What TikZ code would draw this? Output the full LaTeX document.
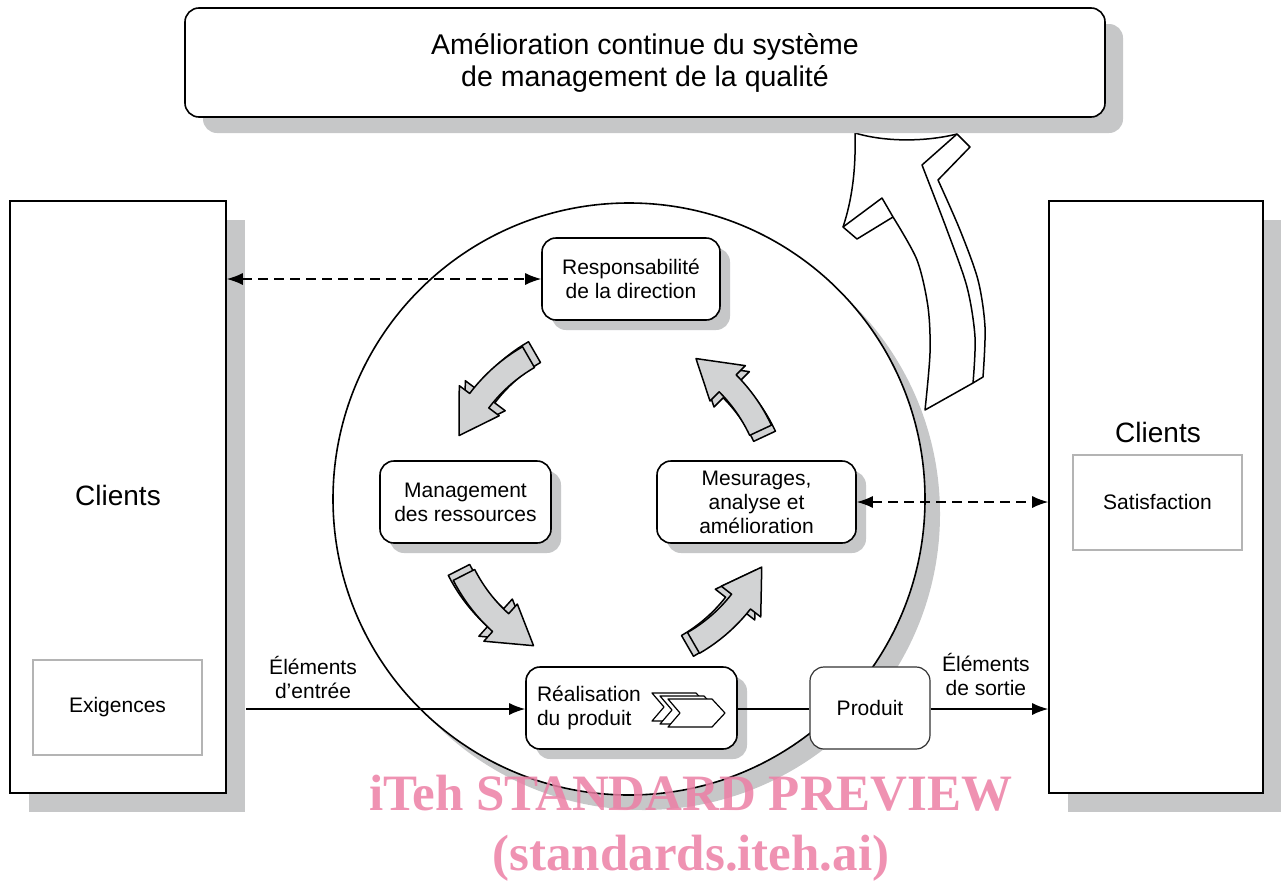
\documentclass[tikz,border=0pt]{standalone}
\usepackage{fontspec}
\setmainfont{Liberation Sans}
\newfontfamily\wmfont{Liberation Serif}
\usepackage{tikz}
\usetikzlibrary{arrows.meta,shadows}
\definecolor{qmshadow}{HTML}{C6C7C8}
\definecolor{qmarrow}{HTML}{D2D3D4}
\definecolor{qmframe}{HTML}{B4B4B4}
\definecolor{qmmark}{HTML}{EC7FA5}
\newcommand{\nodefont}{\fontsize{21}{24}\selectfont}
\newcommand{\titlefont}{\fontsize{28.5}{32}\selectfont}
\newcommand{\bigfont}{\fontsize{28}{32}\selectfont}
% grey 3D arrow of the process cycle: tail angle, tip angle, back shift x/y
\newcommand{\cycarrow}[4]{%
  \pgfmathsetmacro{\hb}{#2+14}%
  \foreach \dx/\dy in {#3/#4,0/0}{%
    \filldraw[cycarr,shift={(\dx,\dy)}]
      plot[domain=#1:\hb,samples=12] ({611+177*cos(\x)},{500+177*sin(\x)})
      -- ({611+190*cos(\hb)},{500+190*sin(\hb)})
      -- ({611+165*cos(#2)},{500+165*sin(#2)})
      -- ({611+140*cos(\hb)},{500+140*sin(\hb)})
      -- plot[domain=\hb:#1,samples=12] ({611+153*cos(\x)},{500+153*sin(\x)})
      -- cycle;}}

\begin{document}
\begin{tikzpicture}[x=1pt,y=-1pt,
  every node/.style={font=\nodefont},
  topbox/.style={draw,rounded corners=14pt,fill=white,line width=1.6pt,minimum width=920pt,minimum height=109pt,align=center,font=\titlefont,drop shadow={shadow xshift=18pt,shadow yshift=-16pt,fill=qmshadow,opacity=1}},
  clientbox/.style={draw,fill=white,line width=1.6pt,minimum width=216pt,minimum height=592pt,drop shadow={shadow xshift=19pt,shadow yshift=-19pt,fill=qmshadow,opacity=1}},
  reqbox/.style={draw=qmframe,line width=2pt,fill=white,minimum width=169pt,minimum height=95pt},
  ring/.style={circle,draw,line width=1.6pt,fill=white,minimum size=592pt,drop shadow={shadow xshift=15pt,shadow yshift=-15pt,fill=qmshadow,opacity=1}},
  procbox/.style={draw,rounded corners=14pt,fill=white,line width=1.6pt,minimum height=82pt,align=center,drop shadow={shadow xshift=10pt,shadow yshift=-10pt,fill=qmshadow,opacity=1}},
  prodbox/.style={draw=black!80,rounded corners=14pt,fill=white,line width=1.2pt,minimum width=120pt,minimum height=82pt},
  dasharr/.style={{Latex[length=16pt,width=12pt]}-{Latex[length=16pt,width=12pt]},line width=1.4pt,dash pattern=on 10pt off 6pt},
  flowarr/.style={-{Latex[length=16pt,width=12pt]},line width=1.4pt},
  cycarr/.style={fill=qmarrow,draw,line width=1.5pt,line join=round},
  chev/.style={fill=white,draw,line width=1.2pt,line join=round},
  wm/.style={font=\wmfont\bfseries\fontsize{51}{56}\selectfont,text=qmmark,opacity=0.85,anchor=base}
]
\useasboundingbox (0,0) rectangle (1281,881);

% clients on both sides
\node[clientbox] (clientsL) at (118,497) {};
\node[clientbox,minimum width=214pt] (clientsR) at (1156,497) {};
\node[font=\bigfont] (clL) at (118,495) {Clients};
\node[font=\bigfont] (clR) at (1158,432) {Clients};
\node[reqbox] (req) at (117.5,707.5) {Exigences};
\node[reqbox] (sat) at (1157.5,502) {Satisfaction};

% quality management system
\node[ring] (qms) at (629,499) {};
\node[procbox,minimum width=178pt] (resp) at (631,279) {Responsabilité\\de la direction};
\node[procbox,minimum width=171pt] (mgmt) at (465.5,502) {Management\\des ressources};
\node[procbox,minimum width=199pt] (meas) at (756.5,502) {Mesurages,\\analyse et\\amélioration};
\node[procbox,minimum width=211pt,text width=189pt,inner xsep=11pt,align=left] (real) at (631.5,708) {Réalisation\\du produit};
\foreach \s in {2,1,0}
  \filldraw[chev,shift={(-8*\s,-3*\s)}] (668,699) -- (712,699) -- (725,713) -- (712,727) -- (668,727) -- (680,713) -- cycle;

\cycarrow{240}{203}{6}{-5}
\cycarrow{335}{301}{4}{6}
\cycarrow{153}{118}{-5}{-5}
\cycarrow{60}{24}{-6}{3}

% continual improvement arrow
\filldraw[fill=white,line width=1.5pt,line join=round]
  (855,133) .. controls (856,170) and (852,200) .. (843,227) -- (857,239) -- (893,217)
  -- plot[smooth] coordinates {(893,217) (917,260) (928,307) (930,353) (925,410)}
  -- (973,383) -- (983,377)
  -- plot[smooth] coordinates {(983,377) (985,327) (978,280) (960,230) (938,180)}
  -- (970,147) -- (957,134) .. controls (925,142) and (885,142) .. (855,133) -- cycle;
\draw[line width=1.5pt,line join=round] (843,227) -- (882,198) -- (893,217);
\draw[line width=1.5pt,line join=round] (957,134) -- (922,165)
  -- plot[smooth] coordinates {(922,165) (947,230) (967,287) (975,337) (973,383)};

\node[topbox] (cqi) at (645,62.5) {Amélioration continue du système\\de management de la qualité};

% flows
\coordinate (inL) at (246,709);
\draw[dasharr] (clientsL.east |- resp.west) -- (resp.west);
\draw[dasharr] (meas.east) -- (meas.east -| clientsR.west);
\node[prodbox] (prod) at (870,708) {Produit};
\draw[flowarr] (inL) -- node[pos=0.24,above=6pt,align=center] (inlbl) {Éléments\\d'entrée} (inL -| real.west);
\draw[line width=1.4pt] (real.east |- inL) -- (prod.west |- inL);
\draw[flowarr] (prod.east |- inL) -- node[pos=0.47,above=9pt,align=center] (outlbl) {Éléments\\de sortie} (clientsR.west |- inL);

\node[wm] (wm1) at (691,810) {iTeh STANDARD PREVIEW};
\node[wm] (wm2) at (691,870) {(standards.iteh.ai)};
\end{tikzpicture}
\end{document}
